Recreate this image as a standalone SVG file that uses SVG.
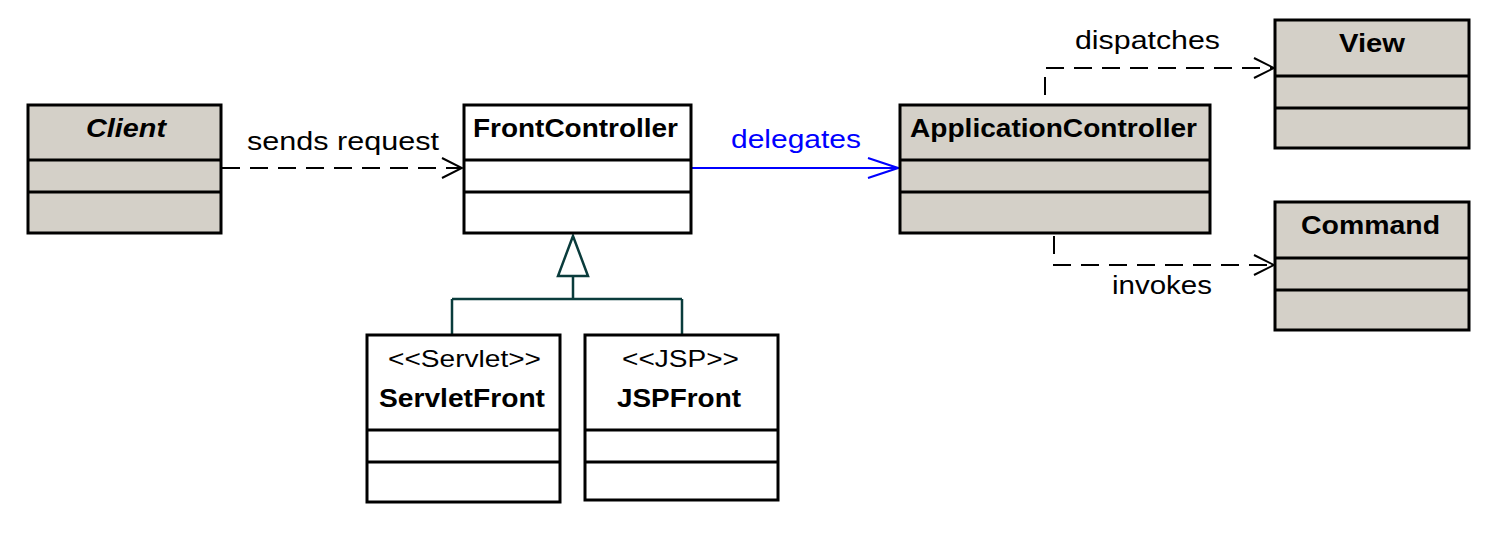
<svg xmlns="http://www.w3.org/2000/svg" width="1498" height="536" viewBox="0 0 1498 536">
  <style>
    .box { stroke: #000; stroke-width: 3; }
    .gray { fill: #d4d0c8; }
    .white { fill: #fff; }
    .div { stroke: #000; stroke-width: 3; }
    .title { font-family: "Liberation Sans", Arial, sans-serif; font-weight: bold; font-size: 26px; fill: #000; }
    .stereo { font-family: "Liberation Sans", Arial, sans-serif; font-size: 24px; fill: #000; }
    .lbl { font-family: "Liberation Sans", Arial, sans-serif; font-size: 25px; fill: #000; }
    .dep { fill: none; stroke: #000; stroke-width: 2; stroke-dasharray: 18 10; }
    .gen { fill: none; stroke: #0a3c3c; stroke-width: 2.5; }
  </style>
  <defs>
    <marker id="open" markerWidth="24" markerHeight="24" refX="22" refY="12" orient="auto" markerUnits="userSpaceOnUse">
      <path d="M2,2 L22,12 L2,22" fill="none" stroke="#000" stroke-width="2"/>
    </marker>
    <marker id="openBlue" markerWidth="34" markerHeight="24" refX="32" refY="12" orient="auto" markerUnits="userSpaceOnUse">
      <path d="M2,2 L32,12 L2,22" fill="none" stroke="#0000ff" stroke-width="2"/>
    </marker>
  </defs>
  <rect width="1498" height="536" fill="#fff"/>

  <g id="connectors">
    <!-- Client to FrontController -->
    <path class="dep" d="M222,168 H462" marker-end="url(#open)"/>
    <text class="lbl" x="247" y="150" textLength="192" lengthAdjust="spacingAndGlyphs">sends request</text>
    <!-- FrontController to ApplicationController -->
    <path d="M692,168 H898" fill="none" stroke="#0000ff" stroke-width="2" marker-end="url(#openBlue)"/>
    <text x="731" y="148" font-family="Liberation Sans, Arial, sans-serif" font-size="25" fill="#0000ff" textLength="130" lengthAdjust="spacingAndGlyphs">delegates</text>
    <!-- ApplicationController to View -->
    <path class="dep" d="M1045,95 V68 H1274" marker-end="url(#open)"/>
    <text class="lbl" x="1075" y="49" textLength="145" lengthAdjust="spacingAndGlyphs">dispatches</text>
    <!-- ApplicationController to Command -->
    <path class="dep" d="M1054,236 V265 H1274" marker-end="url(#open)"/>
    <text class="lbl" x="1112" y="294" textLength="100" lengthAdjust="spacingAndGlyphs">invokes</text>
    <!-- generalization -->
    <polygon class="gen" points="573,236 558,276 588,276" fill="#fff"/>
    <path class="gen" d="M573,276 V299 M452,299 H682 M452,299 V335 M682,299 V335"/>
  </g>

  <g id="client">
    <rect class="box gray" x="28" y="105" width="193" height="128"/>
    <line class="div" x1="28" y1="160" x2="221" y2="160"/>
    <line class="div" x1="28" y1="192" x2="221" y2="192"/>
    <text class="title" x="86" y="137" font-style="italic" textLength="80" lengthAdjust="spacingAndGlyphs">Client</text>
  </g>

  <g id="frontController">
    <rect class="box white" x="464" y="105" width="227" height="128"/>
    <line class="div" x1="464" y1="160" x2="691" y2="160"/>
    <line class="div" x1="464" y1="192" x2="691" y2="192"/>
    <text class="title" x="473" y="137" textLength="205" lengthAdjust="spacingAndGlyphs">FrontController</text>
  </g>

  <g id="applicationController">
    <rect class="box gray" x="900" y="105" width="310" height="128"/>
    <line class="div" x1="900" y1="160" x2="1210" y2="160"/>
    <line class="div" x1="900" y1="192" x2="1210" y2="192"/>
    <text class="title" x="910" y="137" textLength="287" lengthAdjust="spacingAndGlyphs">ApplicationController</text>
  </g>

  <g id="view">
    <rect class="box gray" x="1275" y="20" width="194" height="128"/>
    <line class="div" x1="1275" y1="76" x2="1469" y2="76"/>
    <line class="div" x1="1275" y1="108" x2="1469" y2="108"/>
    <text class="title" x="1339" y="52" textLength="66" lengthAdjust="spacingAndGlyphs">View</text>
  </g>

  <g id="command">
    <rect class="box gray" x="1275" y="202" width="194" height="128"/>
    <line class="div" x1="1275" y1="258" x2="1469" y2="258"/>
    <line class="div" x1="1275" y1="290" x2="1469" y2="290"/>
    <text class="title" x="1301" y="234" textLength="139" lengthAdjust="spacingAndGlyphs">Command</text>
  </g>

  <g id="servletFront">
    <rect class="box white" x="367" y="335" width="193" height="167"/>
    <line class="div" x1="367" y1="430" x2="560" y2="430"/>
    <line class="div" x1="367" y1="462" x2="560" y2="462"/>
    <text class="stereo" x="388" y="367" textLength="153" lengthAdjust="spacingAndGlyphs">&lt;&lt;Servlet&gt;&gt;</text>
    <text class="title" x="379" y="407" textLength="166" lengthAdjust="spacingAndGlyphs">ServletFront</text>
  </g>

  <g id="jspFront">
    <rect class="box white" x="585" y="335" width="193" height="165"/>
    <line class="div" x1="585" y1="430" x2="778" y2="430"/>
    <line class="div" x1="585" y1="462" x2="778" y2="462"/>
    <text class="stereo" x="622" y="367" textLength="117" lengthAdjust="spacingAndGlyphs">&lt;&lt;JSP&gt;&gt;</text>
    <text class="title" x="617" y="407" textLength="124" lengthAdjust="spacingAndGlyphs">JSPFront</text>
  </g>
</svg>
